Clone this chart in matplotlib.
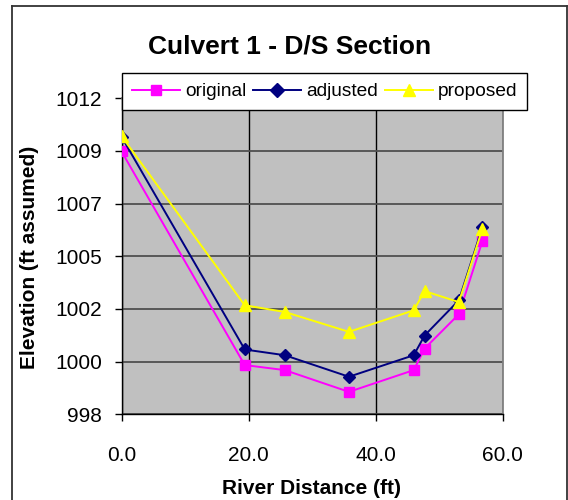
import matplotlib
matplotlib.use('Agg')
import matplotlib.pyplot as plt
from matplotlib.lines import Line2D

plt.rcParams['font.family'] = ['Liberation Sans', 'DejaVu Sans']

# river distance (ft) of each surveyed point
distance = [0.0, 19.4, 25.7, 35.8, 46.0, 47.7, 53.1, 56.8]
# elevations (ft assumed)
original = [1009.28, 999.95, 999.73, 998.78, 999.73, 1000.67, 1002.17, 1005.36]
adjusted = [1009.92, 1000.63, 1000.38, 999.44, 1000.38, 1001.24, 1002.78, 1005.97]
proposed = [1009.95, 1002.56, 1002.27, 1001.40, 1002.34, 1003.18, 1002.70, 1005.90]

x_ticks = [0, 20, 40, 60]
x_tick_labels = ['0.0', '20.0', '40.0', '60.0']
y_ticks = [997.8, 1000.1, 1002.4, 1004.7, 1007.0, 1009.3, 1011.6]
y_tick_labels = ['998', '1000', '1002', '1005', '1007', '1009', '1012']


def draw_chart():
    fig = plt.figure(figsize=(5.68, 5.00), dpi=100)
    ax = fig.add_axes([121.5 / 568, 85.7 / 500, 381.2 / 568, 316.0 / 500])
    ax.set_facecolor('#C0C0C0')

    ax.plot(distance, original, color='#FF00FF', lw=1.4, marker='s', ms=6.5,
            label='original', zorder=3)
    ax.plot(distance, adjusted, color='#000080', lw=1.4, marker='D', ms=6.5,
            label='adjusted', zorder=4)
    ax.plot(distance, proposed, color='#FFFF00', lw=1.4, marker='^', ms=8,
            label='proposed', zorder=5)

    ax.set_xlim(0, 60)
    ax.set_ylim(y_ticks[0], y_ticks[-1])
    ax.set_xticks(x_ticks)
    ax.set_xticklabels(x_tick_labels)
    ax.set_yticks(y_ticks)
    ax.set_yticklabels(y_tick_labels)
    ax.tick_params(axis='both', direction='out', length=5, width=1,
                   labelsize=15, colors='black')
    ax.tick_params(axis='y', pad=9)
    ax.tick_params(axis='x', pad=18)

    ax.yaxis.grid(True, color='#505050', lw=1.3)
    ax.xaxis.grid(True, color='black', lw=1.0)
    ax.set_axisbelow(True)

    for side in ['top', 'right']:
        ax.spines[side].set_color('#808080')
        ax.spines[side].set_linewidth(1.3)
    for side in ['left', 'bottom']:
        ax.spines[side].set_color('black')
        ax.spines[side].set_linewidth(1.0)

    fig.text(290 / 568, 1 - 47 / 500, 'Culvert 1 - D/S Section',
             fontsize=19, fontweight='bold', ha='center', va='center')
    fig.text(312 / 568, 1 - 489 / 500, 'River Distance (ft)',
             fontsize=15, fontweight='bold', ha='center', va='center')
    fig.text(30 / 568, 1 - 257 / 500, 'Elevation (ft assumed)',
             fontsize=15, fontweight='bold', ha='center', va='center',
             rotation=90)

    leg = fig.legend(loc='upper left', bbox_to_anchor=(121.7 / 568, 1 - 73 / 500),
                     borderaxespad=0, ncol=3, fontsize=13.8, handlelength=2.5,
                     handletextpad=0.28, columnspacing=0.35, borderpad=0.52,
                     markerscale=1.1, fancybox=False, framealpha=1,
                     edgecolor='black')
    leg.get_frame().set_linewidth(1.0)

    # outer chart frame
    kw = dict(transform=fig.transFigure, color='#333333', lw=1.3)
    fig.add_artist(Line2D([12 / 568, 12 / 568], [1 - 6 / 500, -0.01], **kw))
    fig.add_artist(Line2D([12 / 568, 567 / 568], [1 - 6 / 500, 1 - 6 / 500], **kw))
    fig.add_artist(Line2D([567 / 568, 567 / 568], [1 - 6 / 500, -0.01], **kw))

    fig.savefig('out.png', dpi=100)


if __name__ == '__main__':
    draw_chart()
